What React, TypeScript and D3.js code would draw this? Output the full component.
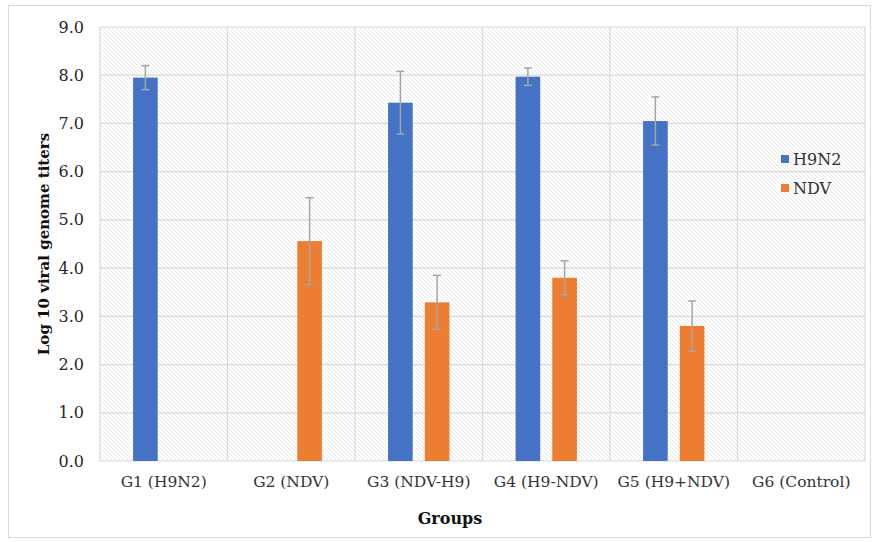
import React from "react";
import * as d3 from "d3";

const categories = ["G1 (H9N2)", "G2 (NDV)", "G3 (NDV-H9)", "G4 (H9-NDV)", "G5 (H9+NDV)", "G6 (Control)"];
const seriesNames = ["H9N2", "NDV"];
const h9n2Values = [7.95, 0, 7.43, 7.97, 7.05, 0];
const h9n2Errors = [0.25, 0, 0.65, 0.18, 0.5, 0];
const ndvValues = [0, 4.56, 3.29, 3.8, 2.8, 0];
const ndvErrors = [0, 0.9, 0.56, 0.35, 0.52, 0];
const yTicks = [0, 1, 2, 3, 4, 5, 6, 7, 8, 9];
const colors = ["#4472C4", "#ED7D31"];

export default function App() {
  const W = 876, H = 542;
  const left = 100, right = 865, top = 27, bottom = 461;
  const x = d3.scaleBand<string>().domain(categories).range([left, right]).padding(0);
  const y = d3.scaleLinear().domain([0, 9]).range([bottom, top]);
  const bw = x.bandwidth();
  const barW = bw * 0.193;
  const gap = bw * 0.095;
  const font = "'DejaVu Serif', Georgia, serif";
  const series = [
    { name: seriesNames[0], values: h9n2Values, errs: h9n2Errors, color: colors[0], off: -gap / 2 - barW },
    { name: seriesNames[1], values: ndvValues, errs: ndvErrors, color: colors[1], off: gap / 2 },
  ];
  return (
    <svg width={W} height={H} style={{ position: "absolute", left: 0, top: 0, background: "#fff" }}>
      <defs>
        <pattern id="hatch" width="4" height="4" patternUnits="userSpaceOnUse">
          <path d="M0,0 L4,4 M-1,3 L1,5 M3,-1 L5,1" stroke="#e3e3e3" strokeWidth="0.8" />
        </pattern>
      </defs>
      <rect x={8.5} y={5.5} width={862} height={532} fill="#fff" stroke="#d9d9d9" />
      <rect x={left} y={top} width={right - left} height={bottom - top} fill="url(#hatch)" />
      {yTicks.map((t) => (
        <line key={"g" + t} x1={left} x2={right} y1={y(t)} y2={y(t)} stroke="#d9d9d9" strokeWidth={1.2} />
      ))}
      {categories.map((c, i) => (
        <line key={"v" + i} x1={x(c)!} x2={x(c)!} y1={top} y2={bottom} stroke="#d9d9d9" strokeWidth={1.2} />
      ))}
      <line x1={right} x2={right} y1={top} y2={bottom} stroke="#d9d9d9" strokeWidth={1.2} />
      {series.map((s) =>
        categories.map((c, i) => {
          const v = s.values[i];
          if (!v) return null;
          const cx = x(c)! + bw / 2 + s.off;
          const mid = cx + barW / 2;
          const e = s.errs[i];
          return (
            <g key={s.name + i}>
              <rect x={cx} y={y(v)} width={barW} height={y(0) - y(v)} fill={s.color} />
              <line x1={mid} x2={mid} y1={y(v + e)} y2={y(v - e)} stroke="#a5a5a5" strokeWidth={1.5} />
              <line x1={mid - 4} x2={mid + 4} y1={y(v + e)} y2={y(v + e)} stroke="#a5a5a5" strokeWidth={1.5} />
              <line x1={mid - 4} x2={mid + 4} y1={y(v - e)} y2={y(v - e)} stroke="#a5a5a5" strokeWidth={1.5} />
            </g>
          );
        })
      )}
      {yTicks.map((t) => (
        <text key={"t" + t} x={84} y={y(t)} dy="0.35em" textAnchor="end" fontFamily={font} fontSize={16} fill="#262626">
          {d3.format(".1f")(t)}
        </text>
      ))}
      {categories.map((c) => (
        <text key={"l" + c} x={x(c)! + bw / 2} y={487} textAnchor="middle" fontFamily={font} fontSize={15.5} fill="#333">
          {c}
        </text>
      ))}
      <text x={450} y={524} textAnchor="middle" fontFamily={font} fontSize={16} fontWeight="bold" fill="#111">
        Groups
      </text>
      <text transform={`translate(49,${(top + bottom) / 2}) rotate(-90)`} textAnchor="middle" fontFamily={font} fontSize={15} fontWeight="bold" fill="#111">
        Log 10  viral genome titers
      </text>
      {series.map((s, i) => (
        <g key={"lg" + i} transform={`translate(781,${155 + i * 29})`}>
          <rect x={0} y={0} width={8} height={8} fill={s.color} />
          <text x={12} y={4} dy="0.35em" fontFamily={font} fontSize={16} fill="#333">
            {s.name}
          </text>
        </g>
      ))}
    </svg>
  );
}
